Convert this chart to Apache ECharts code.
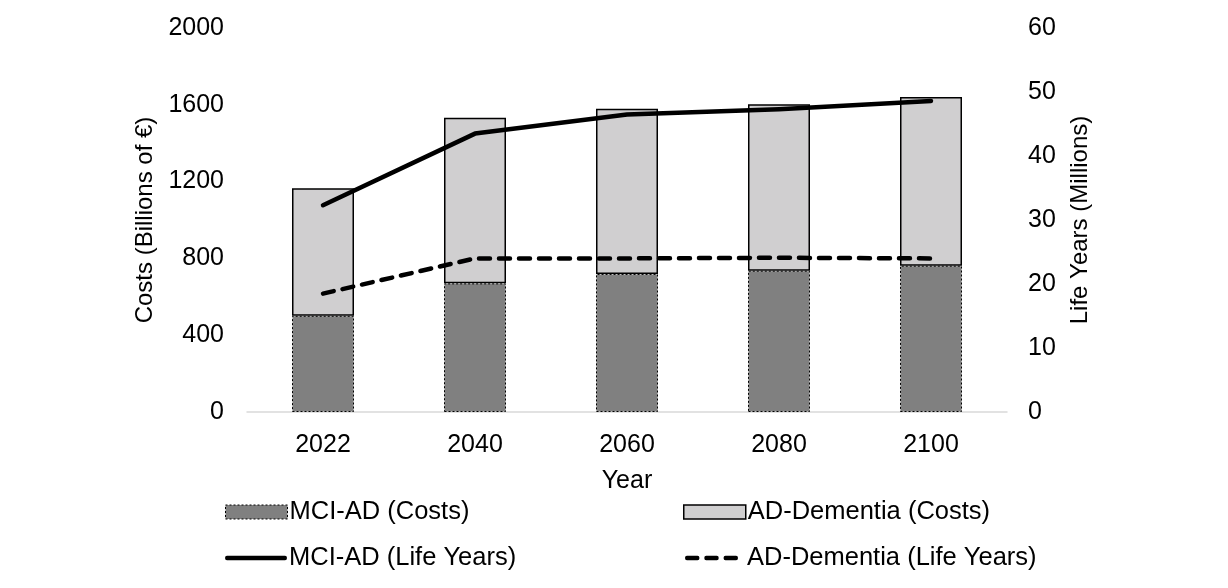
<!DOCTYPE html>
<html>
<head>
<meta charset="utf-8">
<script src="https://cdn.jsdelivr.net/npm/echarts@6/dist/echarts.min.js"></script>
<style>html,body{margin:0;padding:0;background:#fff}#c{width:1228px;height:588px}</style>
</head>
<body>
<div id="c"></div>
<script>
var years = ['2022', '2040', '2060', '2080', '2100'];
var mciCosts = [501, 670, 719, 736, 762];
var adCosts = [665, 862, 860, 867, 879];
var mciLifeYears = [32.3, 43.5, 46.5, 47.3, 48.6];
var adLifeYears = [18.5, 24.0, 24.0, 24.1, 24.0];
var costTicks = [0, 400, 800, 1200, 1600, 2000];
var lifeTicks = [0, 10, 20, 30, 40, 50, 60];

var font = 'Liberation Sans, Arial, sans-serif';
var FS = 25;
var chart = echarts.init(document.getElementById('c'));
function leg(item, left, top, w, h, pad) {
  return {data: [item], left: left, top: top, itemWidth: w, itemHeight: h, itemGap: 0,
    symbolKeepAspect: false,
    textStyle: {fontSize: 25.5, color: '#000', fontFamily: font, padding: [0, 0, 0, pad]},
    selectedMode: false, padding: 0};
}
var dashPath = 'path://M2,0h11a2,2 0 0 1 0,4h-11a2,2 0 0 1 0,-4z M22,0h11a2,2 0 0 1 0,4h-11a2,2 0 0 1 0,-4z M42,0h11a2,2 0 0 1 0,4h-11a2,2 0 0 1 0,-4z';
var solidPath = 'path://M2,0h58a2,2 0 0 1 0,4h-58a2,2 0 0 1 0,-4z';
chart.setOption({
  animation: false,
  grid: {left: 247, right: 221, top: 28, bottom: 176},
  legend: [
    leg({name: 'MCI-AD (Costs)', icon: 'rect', itemStyle: {borderType: [2, 2], borderWidth: 1}}, 225, 499, 62, 14, -3),
    leg({name: 'AD-Dementia (Costs)', icon: 'rect', itemStyle: {borderWidth: 1.5}}, 683, 499, 62, 14, -3),
    leg({name: 'MCI-AD (Life Years)', icon: solidPath, itemStyle: {borderWidth: 0}}, 225, 545, 62, 4.5, -3),
    leg({name: 'AD-Dementia (Life Years)', icon: dashPath, itemStyle: {borderWidth: 0}}, 685, 545, 53, 4.5, 4)
  ],
  xAxis: {
    type: 'category', data: years,
    name: 'Year', nameLocation: 'middle', nameGap: 57,
    nameTextStyle: {fontSize: FS, color: '#000', fontFamily: font},
    axisLine: {lineStyle: {color: '#d9d9d9', width: 1.5}},
    axisTick: {show: false},
    axisLabel: {fontSize: FS, color: '#000', fontFamily: font, margin: 21}
  },
  yAxis: [{
    type: 'value', min: costTicks[0], max: costTicks[costTicks.length - 1], interval: 400,
    name: 'Costs (Billions of \u20ac)', nameLocation: 'middle', nameGap: 88,
    nameTextStyle: {fontSize: 24, color: '#000', fontFamily: font},
    axisLine: {show: false}, axisTick: {show: false}, splitLine: {show: false},
    axisLabel: {fontSize: FS, color: '#000', fontFamily: font, margin: 23,
      formatter: function (v) { return String(v); }}
  }, {
    type: 'value', min: lifeTicks[0], max: lifeTicks[lifeTicks.length - 1], interval: 10,
    name: 'Life Years (Millions)', nameLocation: 'middle', nameGap: 61,
    nameTextStyle: {fontSize: 24, color: '#000', fontFamily: font},
    axisLine: {show: false}, axisTick: {show: false}, splitLine: {show: false},
    axisLabel: {fontSize: FS, color: '#000', fontFamily: font, margin: 21,
      formatter: function (v) { return String(v); }}
  }],
  series: [{
    name: 'MCI-AD (Costs)', type: 'bar', stack: 'c', data: mciCosts, barWidth: 62,
    itemStyle: {color: '#808080', borderColor: '#000', borderWidth: 1, borderType: [2, 2]}
  }, {
    name: 'AD-Dementia (Costs)', type: 'bar', stack: 'c', data: adCosts, barWidth: 62,
    itemStyle: {color: '#d0cfd0', borderColor: '#000', borderWidth: 1.5}
  }, {
    name: 'MCI-AD (Life Years)', type: 'line', yAxisIndex: 1, data: mciLifeYears,
    symbol: 'none', lineStyle: {color: '#000', width: 4.5, cap: 'round', join: 'round'},
    itemStyle: {color: '#000'}
  }, {
    name: 'AD-Dementia (Life Years)', type: 'line', yAxisIndex: 1, data: adLifeYears,
    symbol: 'none', lineStyle: {color: '#000', width: 4.5, type: [11, 9], cap: 'round'},
    itemStyle: {color: '#000'}
  }]
});
</script>
</body>
</html>
